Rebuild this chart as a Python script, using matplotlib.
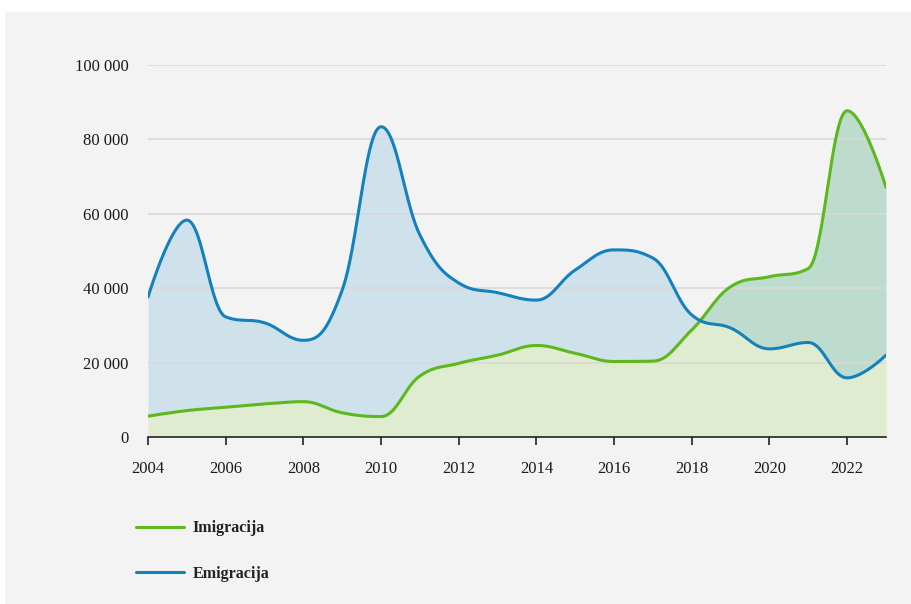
import numpy as np
import matplotlib
matplotlib.use("Agg")
import matplotlib.pyplot as plt
from matplotlib.patches import Rectangle

years = list(range(2004, 2024))
immigration = [5600, 7100, 8000, 8900, 9500, 6500, 5500, 16400, 19800, 22000,
               24600, 22500, 20300, 20400, 28800, 40400, 43100, 45300, 87700, 67100]
emigration = [37600, 58300, 32300, 30700, 26000, 39500, 83400, 54300, 41400, 38800,
              36800, 44900, 50300, 48100, 32800, 29300, 23700, 25400, 15900, 22000]
series_names = ["Imigracija", "Emigracija"]
x_ticks = list(range(2004, 2023, 2))
y_ticks = [0, 20000, 40000, 60000, 80000, 100000]

GREEN = "#5cb81c"
BLUE = "#1581bc"
BG = "#f3f3f3"


def spline_curve(xs, ys, n=40, smoothing=1.5):
    """Highcharts-style spline rendering of the data points."""
    xs = np.asarray(xs, float)
    ys = np.asarray(ys, float)
    m = len(xs)
    lcx, lcy = xs.copy(), ys.copy()
    rcx, rcy = xs.copy(), ys.copy()
    denom = smoothing + 1
    for i in range(1, m - 1):
        px, py = xs[i], ys[i]
        ax_, ay = xs[i - 1], ys[i - 1]
        bx_, by_ = xs[i + 1], ys[i + 1]
        lx = (smoothing * px + ax_) / denom
        ly = (smoothing * py + ay) / denom
        rx = (smoothing * px + bx_) / denom
        ry = (smoothing * py + by_) / denom
        if rx != lx:
            corr = ((ry - ly) * (rx - px)) / (rx - lx) + py - ry
            ly += corr
            ry += corr
        if ly > ay and ly > py:
            ly = max(ay, py)
            ry = 2 * py - ly
        elif ly < ay and ly < py:
            ly = min(ay, py)
            ry = 2 * py - ly
        if ry > by_ and ry > py:
            ry = max(by_, py)
            ly = 2 * py - ry
        elif ry < by_ and ry < py:
            ry = min(by_, py)
            ly = 2 * py - ry
        lcx[i], lcy[i], rcx[i], rcy[i] = lx, ly, rx, ry
    t = np.linspace(0, 1, n)[:, None]
    outx, outy = [], []
    for i in range(m - 1):
        P0 = np.array([xs[i], ys[i]])
        P1 = np.array([rcx[i], rcy[i]])
        P2 = np.array([lcx[i + 1], lcy[i + 1]])
        P3 = np.array([xs[i + 1], ys[i + 1]])
        B = ((1 - t) ** 3) * P0 + 3 * ((1 - t) ** 2) * t * P1 + 3 * (1 - t) * t ** 2 * P2 + t ** 3 * P3
        if i > 0:
            B = B[1:]
        outx.append(B[:, 0])
        outy.append(B[:, 1])
    return np.concatenate(outx), np.concatenate(outy)


gx, gy = spline_curve(years, immigration)
bx, by = spline_curve(years, emigration)
X = np.linspace(years[0], years[-1], 3000)
G = np.interp(X, gx, gy)
Bl = np.interp(X, bx, by)

fig = plt.figure(figsize=(9.12, 6.04), dpi=100, facecolor="white")
bg = Rectangle((5 / 912, 0), 1, 1 - 12 / 604, transform=fig.transFigure,
               facecolor=BG, edgecolor="none", zorder=-10)
fig.add_artist(bg)

ax = fig.add_axes([148 / 912, (604 - 437) / 604, (886 - 148) / 912, (437 - 65) / 604])
ax.patch.set_alpha(0)

low = np.minimum(G, Bl)
ax.fill_between(X, 0, low, color="#dfecd0", lw=0, zorder=1)
ax.fill_between(X, low, Bl, where=Bl >= G, color="#cfe2ec", lw=0, zorder=1, interpolate=True)
ax.fill_between(X, low, G, where=G >= Bl, color="#bedccd", lw=0, zorder=1, interpolate=True)

for yt in y_ticks[1:]:
    ax.axhline(yt, color="#d9d9d9", lw=1.2, zorder=2)

ax.plot(gx, gy, color=GREEN, lw=2.2, zorder=4, solid_capstyle="round", label=series_names[0])
ax.plot(bx, by, color=BLUE, lw=2.2, zorder=4, solid_capstyle="round", label=series_names[1])

ax.set_xlim(2004, 2023)
ax.set_ylim(0, 100000)
ax.set_xticks(x_ticks)
ax.set_xticklabels([str(v) for v in x_ticks])
ax.set_yticks(y_ticks)
ax.set_yticklabels([f"{v:,}".replace(",", " ") for v in y_ticks])

for s in ["top", "right", "left"]:
    ax.spines[s].set_visible(False)
ax.spines["bottom"].set_color("#222222")
ax.spines["bottom"].set_linewidth(1.2)
ax.tick_params(axis="x", length=6, width=1.2, color="#222222", direction="out",
               labelsize=12, pad=11)
ax.tick_params(axis="y", length=0, labelsize=12, pad=14)
for lab in ax.get_xticklabels() + ax.get_yticklabels():
    lab.set_family("Liberation Serif")
    lab.set_color("#1a1a1a")

handles, labels = ax.get_legend_handles_labels()
leg = fig.legend(handles, labels, loc="upper left", bbox_to_anchor=(122 / 912, 1 - 506 / 604),
                 frameon=False, handlelength=3.0, handletextpad=0.5, labelspacing=1.85,
                 prop={"family": "Liberation Serif", "size": 11.5, "weight": "bold"})
for t in leg.get_texts():
    t.set_color("#222222")

fig.savefig("out.png", dpi=100, facecolor=fig.get_facecolor())
